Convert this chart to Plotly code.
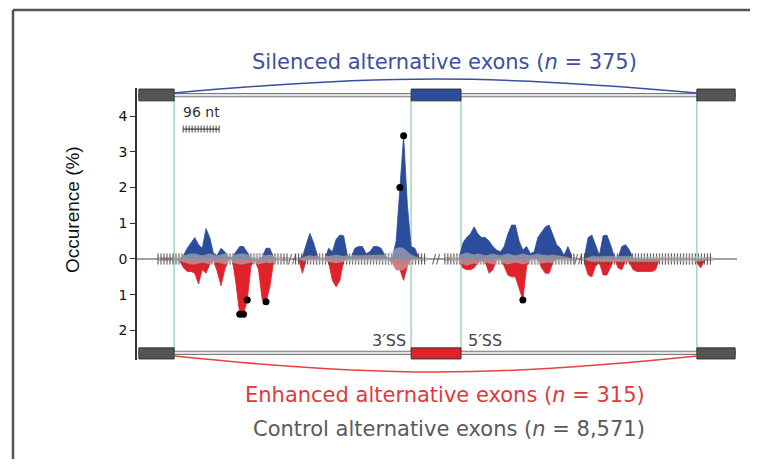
import plotly.graph_objects as go

# ---------------- data ----------------
# map layout (nt along the drawn map)
EXONIC, INTRONIC = 35, 300
STEP = 10
EXON_UP = (5, 99)
EXON_ALT = (731, 864)
EXON_DN = (1493, 1595)
scale_bar_nt = 96
y_tickvals = [-2, -1, 0, 1, 2, 3, 4]
y_ticktext = ["2", "1", "0", "1", "2", "3", "4"]

# Silenced exons (occurrence %, plotted upward), 4 map segments, 34 windows each
silenced_A = [0, 0, 0, 0, 0, 0, 0.1, 0.3, 0.45, 0.6, 0.4, 0.3, 0.85, 0.6, 0.15, 0.1, 0.3,
              0.2, 0.05, 0.05, 0.2, 0.35, 0.35, 0.2, 0.02, 0, 0, 0.05, 0.3, 0.3, 0.05, 0, 0, 0]
silenced_B = [0, 0.05, 0.4, 0.72, 0.45, 0.1, 0, 0, 0.3, 0.2, 0.55, 0.67, 0.65, 0.1, 0.05, 0.3,
              0.35, 0.35, 0.15, 0.2, 0.35, 0.35, 0.3, 0.1, 0, 0.05, 0.5, 2.0, 3.45, 1.5, 0.35,
              0.3, 0.05, 0]
silenced_C = [0, 0, 0, 0, 0.45, 0.6, 0.7, 0.9, 0.7, 0.6, 0.6, 0.5, 0.35, 0.25, 0.2, 0.35, 0.7,
              0.95, 0.95, 0.5, 0.25, 0.35, 0.15, 0.2, 0.6, 0.75, 0.9, 0.95, 0.7, 0.4, 0.3, 0.1,
              0.35, 0.1]
silenced_D = [0.05, 0.6, 0.67, 0.4, 0.1, 0.65, 0.67, 0.4, 0.05, 0.05, 0.35, 0.4, 0.25, 0.02, 0,
              0, 0, 0, 0, 0, 0, 0, 0, 0, 0, 0, 0, 0, 0, 0, 0, 0, 0, 0]

# Enhanced exons (occurrence %, plotted downward)
enhanced_A = [0, 0, 0, 0, 0, 0.05, 0.25, 0.35, 0.35, 0.4, 0.7, 0.3, 0.4, 0.15, 0.05, 0.35, 0.75,
              0.3, 0.02, 0, 0.7, 1.55, 1.55, 1.15, 0.2, 0.02, 0.3, 1.15, 1.2, 0.8, 0.1, 0, 0, 0]
enhanced_B = [0, 0.4, 0.05, 0, 0, 0, 0, 0, 0.1, 0.6, 0.78, 0.6, 0.05, 0, 0, 0, 0, 0, 0, 0, 0,
              0, 0, 0, 0, 0.1, 0.3, 0.3, 0.6, 0.2, 0, 0, 0, 0]
enhanced_C = [0, 0, 0, 0, 0.25, 0.3, 0.3, 0.25, 0.1, 0.05, 0.1, 0.4, 0.3, 0, 0, 0.2, 0.45, 0.5,
              0.5, 0.8, 1.15, 0.2, 0, 0, 0, 0.25, 0.4, 0.4, 0.1, 0, 0, 0, 0, 0]
enhanced_D = [0.1, 0.45, 0.5, 0.2, 0.1, 0.45, 0.45, 0.2, 0, 0.25, 0.3, 0.05, 0.1, 0.3, 0.35,
              0.35, 0.35, 0.35, 0.35, 0.3, 0, 0, 0, 0, 0, 0, 0, 0, 0, 0, 0.1, 0.25, 0.05, 0]

# Control exons (occurrence %, drawn symmetric, translucent)
control_A = [0, 0, 0, 0, 0.05, 0.08, 0.1, 0.12, 0.15, 0.15, 0.12, 0.1, 0.12, 0.15, 0.12, 0.1,
             0.12, 0.15, 0.12, 0.1, 0.12, 0.15, 0.15, 0.12, 0.1, 0.12, 0.15, 0.12, 0.1, 0.12,
             0.1, 0.08, 0.05, 0]
control_B = [0, 0.05, 0.08, 0.1, 0.08, 0.1, 0.12, 0.1, 0.08, 0.1, 0.12, 0.1, 0.08, 0.1, 0.12,
             0.1, 0.1, 0.12, 0.1, 0.1, 0.12, 0.1, 0.1, 0.12, 0.15, 0.2, 0.3, 0.32, 0.3, 0.2,
             0.12, 0.08, 0.05, 0]
control_C = [0, 0.05, 0.08, 0.1, 0.15, 0.18, 0.15, 0.12, 0.15, 0.12, 0.1, 0.12, 0.15, 0.12, 0.1,
             0.12, 0.15, 0.12, 0.1, 0.12, 0.15, 0.12, 0.1, 0.12, 0.15, 0.12, 0.1, 0.1, 0.12,
             0.1, 0.08, 0.06, 0.05, 0]
control_D = [0, 0.05, 0.08, 0.08, 0.06, 0.08, 0.08, 0.06, 0.08, 0.08, 0.06, 0.08, 0.08, 0.06,
             0.08, 0.08, 0.06, 0.08, 0.08, 0.06, 0.08, 0.08, 0.06, 0.08, 0.08, 0.06, 0.08, 0.1,
             0.12, 0.1, 0.08, 0.06, 0.05, 0]

# significant windows (index within segment)
sig_silenced = {"B": [27, 28]}
sig_enhanced = {"A": [21, 22, 23, 28], "C": [20]}

# ---------------- layout helpers ----------------
SEG_START = {
    "A": EXON_UP[1] - EXONIC,
    "B": EXON_ALT[0] + EXONIC - (EXONIC + INTRONIC),
    "C": EXON_ALT[1] - EXONIC,
    "D": EXON_DN[0] + EXONIC - (EXONIC + INTRONIC),
}
SEG_LEN = EXONIC + INTRONIC
silenced = {"A": silenced_A, "B": silenced_B, "C": silenced_C, "D": silenced_D}
enhanced = {"A": enhanced_A, "B": enhanced_B, "C": enhanced_C, "D": enhanced_D}
control = {"A": control_A, "B": control_B, "C": control_C, "D": control_D}

BLUE = "#2c4c9c"
RED = "#e2222b"
GREY_BOX = "#555555"
GREEN = "#a3d6b4"
FONT = "DejaVu Sans"

Y0, Y1 = -2.83, 4.79
TOP_LINE, BOT_LINE = 4.59, -2.63

fig = go.Figure()

segs = ["A", "B", "C", "D"]
# light band under the baseline ticks
for s in segs:
    x0 = SEG_START[s] - 8
    fig.add_trace(go.Scatter(x=[x0, x0 + SEG_LEN + 16], y=[0, 0], mode="lines",
                             line=dict(color="#c4c4c4", width=4), hoverinfo="skip",
                             showlegend=False))

for s in segs:
    xs = [SEG_START[s] + STEP * i for i in range(len(silenced[s]))]
    fig.add_trace(go.Scatter(x=xs, y=silenced[s], mode="lines", fill="tozeroy",
                             fillcolor=BLUE, line=dict(color=BLUE, width=0.8),
                             showlegend=False, name="Silenced"))
    fig.add_trace(go.Scatter(x=xs, y=[-v for v in enhanced[s]], mode="lines", fill="tozeroy",
                             fillcolor=RED, line=dict(color=RED, width=0.8),
                             showlegend=False, name="Enhanced"))

# baseline nucleotide ticks
for s in segs:
    tx = list(range(SEG_START[s] - 8, SEG_START[s] + SEG_LEN + 9, 8))
    fig.add_trace(go.Scatter(x=tx, y=[0] * len(tx), mode="markers",
                             marker=dict(symbol="line-ns", size=8,
                                         line=dict(color="#4a4a4a", width=1)),
                             hoverinfo="skip", showlegend=False))

# control translucent envelope
for s in segs:
    xs = [SEG_START[s] + STEP * i for i in range(len(control[s]))]
    fig.add_trace(go.Scatter(x=xs + xs[::-1], y=control[s] + [-v for v in control[s][::-1]],
                             mode="lines", fill="toself", fillcolor="rgba(210,210,210,0.5)",
                             line=dict(color="rgba(170,170,170,0.5)", width=0.5),
                             showlegend=False, name="Control"))

# significance dots
dx, dy = [], []
for s, idx in sig_silenced.items():
    for i in idx:
        dx.append(SEG_START[s] + STEP * i)
        dy.append(silenced[s][i])
for s, idx in sig_enhanced.items():
    for i in idx:
        dx.append(SEG_START[s] + STEP * i)
        dy.append(-enhanced[s][i])
fig.add_trace(go.Scatter(x=dx, y=dy, mode="markers", marker=dict(color="black", size=7),
                         showlegend=False))

# scale bar
sb_x0 = 123
sb_y = 3.64
sbx = list(range(sb_x0, sb_x0 + scale_bar_nt + 1, 8))
fig.add_trace(go.Scatter(x=[sb_x0, sb_x0 + scale_bar_nt], y=[sb_y, sb_y], mode="lines",
                         line=dict(color="#444", width=1.2), showlegend=False))
fig.add_trace(go.Scatter(x=sbx, y=[sb_y] * len(sbx), mode="markers",
                         marker=dict(symbol="line-ns", size=5, line=dict(color="#444", width=1)),
                         showlegend=False))

shapes = []
# zero line
shapes.append(dict(type="line", xref="x", yref="y", x0=0, x1=1600, y0=0, y1=0,
                   line=dict(color="#444", width=1.2), layer="below"))
# green guide lines
for gx in [EXON_UP[1], EXON_ALT[0], EXON_ALT[1], EXON_DN[0]]:
    shapes.append(dict(type="line", xref="x", yref="y", x0=gx, x1=gx, y0=TOP_LINE,
                       y1=BOT_LINE, line=dict(color=GREEN, width=1.5), layer="below"))
# intron lines
for yl in [TOP_LINE, BOT_LINE]:
    shapes.append(dict(type="rect", xref="x", yref="y", x0=EXON_UP[0], x1=EXON_DN[1],
                       y0=yl - 0.045, y1=yl + 0.045, fillcolor="#e4e4e4",
                       line=dict(color="#777", width=1)))
# exon boxes
for (e0, e1), ctop, cbot in [(EXON_UP, GREY_BOX, GREY_BOX), (EXON_ALT, BLUE, RED),
                             (EXON_DN, GREY_BOX, GREY_BOX)]:
    shapes.append(dict(type="rect", xref="x", yref="y", x0=e0, x1=e1, y0=4.43, y1=4.76,
                       fillcolor=ctop, line=dict(color="#333", width=1)))
    shapes.append(dict(type="rect", xref="x", yref="y", x0=e0, x1=e1, y0=-2.80, y1=-2.49,
                       fillcolor=cbot, line=dict(color="#333", width=1)))

# splice arcs (x in data, y in paper)
mid = (EXON_ALT[0] + EXON_ALT[1]) / 2
a0, a1 = EXON_UP[1], EXON_DN[0]
top_end, top_c = 0.9816, 1.050
bot_end, bot_c = 0.0147, -0.0636
shapes.append(dict(type="path", xref="x", yref="paper",
                   path=f"M {a0},{top_end} C {mid-150},{top_c} {mid+150},{top_c} {a1},{top_end}",
                   line=dict(color="#3c4ea0", width=1.5)))
shapes.append(dict(type="path", xref="x", yref="paper",
                   path=f"M {a0},{bot_end} C {mid-150},{bot_c} {mid+150},{bot_c} {a1},{bot_end}",
                   line=dict(color="#e8403f", width=1.5)))

# frame
fx = (13 - 137) / 600
fy = (360 - 10) / 272
shapes.append(dict(type="line", xref="paper", yref="paper", x0=fx, x1=fx, y0=fy, y1=-0.5,
                   line=dict(color="#555", width=2.5)))
shapes.append(dict(type="line", xref="paper", yref="paper", x0=fx, x1=1.2, y0=fy, y1=fy,
                   line=dict(color="#555", width=2.5)))

annotations = [
    dict(text="Silenced alternative exons (<i>n</i> = 375)", xref="paper", yref="paper",
         x=0.513, y=1.0956, showarrow=False, xanchor="center", yanchor="middle",
         font=dict(family=FONT, size=21, color="#3d4f9f")),
    dict(text="Enhanced alternative exons (<i>n</i> = 315)", xref="paper", yref="paper",
         x=0.513, y=(360 - 395) / 272, showarrow=False, xanchor="center", yanchor="middle",
         font=dict(family=FONT, size=21, color="#e2383d")),
    dict(text="Control alternative exons (<i>n</i> = 8,571)", xref="paper", yref="paper",
         x=0.52, y=(360 - 429) / 272, showarrow=False, xanchor="center", yanchor="middle",
         font=dict(family=FONT, size=21, color="#5a5a5a")),
    dict(text="Occurence (%)", xref="paper", yref="paper", x=(72 - 137) / 600,
         y=(360 - 210) / 272, textangle=-90, showarrow=False, xanchor="center",
         yanchor="middle", font=dict(family="Liberation Sans", size=19, color="#111")),
    dict(text="96 nt", xref="x", yref="y", x=sb_x0 + scale_bar_nt / 2, y=4.12,
         showarrow=False, xanchor="center", yanchor="middle",
         font=dict(family=FONT, size=14, color="#333")),
    dict(text="3′SS", xref="x", yref="y", x=EXON_ALT[0] - 8, y=-2.27, showarrow=False,
         xanchor="right", yanchor="middle", font=dict(family=FONT, size=16, color="#444")),
    dict(text="5′SS", xref="x", yref="y", x=EXON_ALT[1] + 14, y=-2.27, showarrow=False,
         xanchor="left", yanchor="middle", font=dict(family=FONT, size=16, color="#444")),
]
for s_prev, s_next in [("A", "B"), ("B", "C"), ("C", "D")]:
    bx = (SEG_START[s_prev] + SEG_LEN + SEG_START[s_next]) / 2
    annotations.append(dict(text="//", xref="x", yref="y", x=bx, y=0, showarrow=False,
                            xanchor="center", yanchor="middle",
                            font=dict(family=FONT, size=12, color="#555")))

# page body has an 8px margin: figure sized to fit the window, margins chosen so the
# plot area lands at page x=137..737, y=88..360
fig.update_layout(
    width=742, height=451,
    margin=dict(l=129, r=13, t=80, b=99),
    paper_bgcolor="white", plot_bgcolor="white",
    shapes=shapes, annotations=annotations,
    showlegend=False,
    xaxis=dict(range=[0, 1600], visible=False, fixedrange=True),
    yaxis=dict(range=[Y0, Y1], tickvals=y_tickvals, ticktext=y_ticktext,
               showgrid=False, zeroline=False, showline=True, linecolor="#333",
               linewidth=1.5, ticks="outside", ticklen=5, tickcolor="#333",
               tickfont=dict(family=FONT, size=14, color="#111"), fixedrange=True),
)

fig.write_html("out.html")
